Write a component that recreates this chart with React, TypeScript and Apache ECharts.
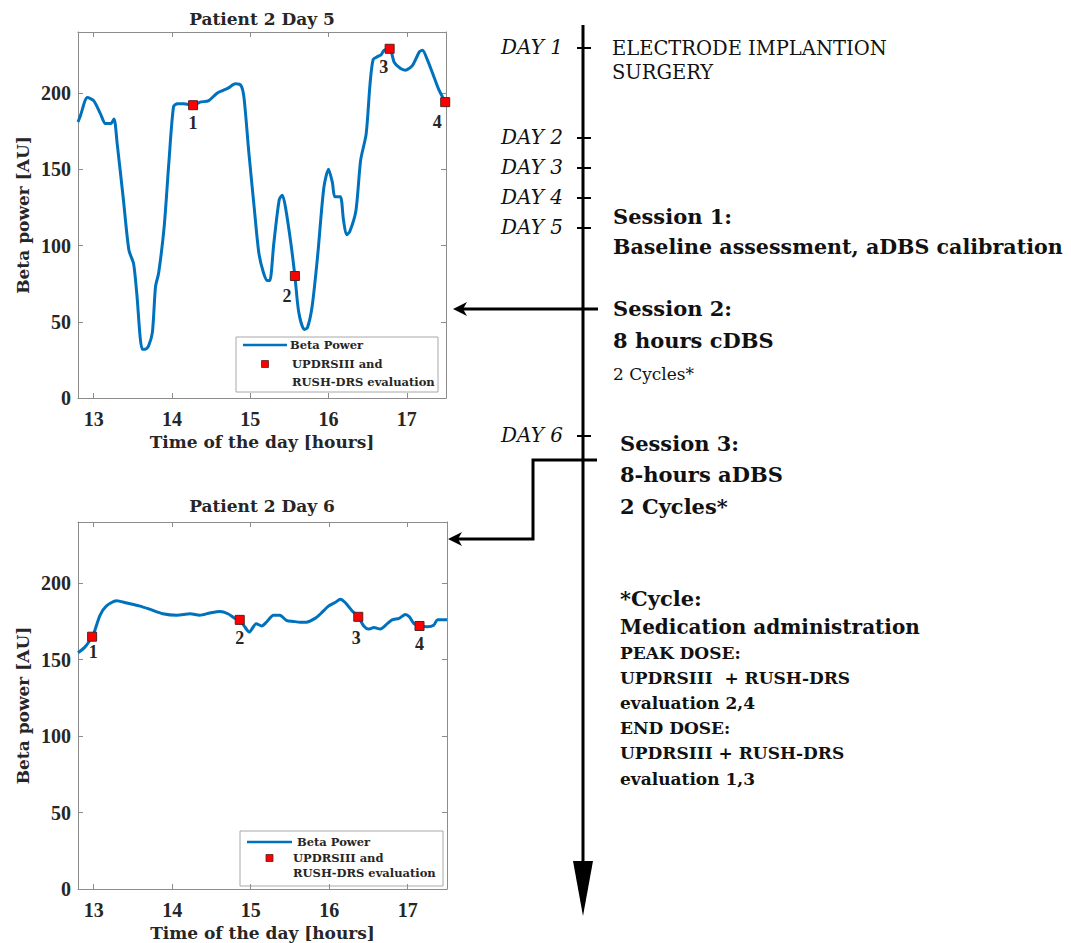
import React, { useEffect, useRef } from 'react';
import * as echarts from 'echarts';

// ---- data ----
const day5Hours = [12.8, 12.83, 12.92, 13.0, 13.09, 13.15, 13.22, 13.26, 13.3, 13.38, 13.45, 13.51, 13.55, 13.62, 13.66, 13.7, 13.75, 13.79, 13.83, 13.9, 13.96, 14.02, 14.07, 14.15, 14.27, 14.36, 14.47, 14.58, 14.71, 14.81, 14.88, 14.92, 14.98, 15.05, 15.11, 15.17, 15.22, 15.25, 15.3, 15.37, 15.41, 15.45, 15.52, 15.57, 15.62, 15.69, 15.73, 15.79, 15.86, 15.94, 16.0, 16.05, 16.08, 16.15, 16.19, 16.23, 16.27, 16.35, 16.41, 16.48, 16.53, 16.57, 16.63, 16.67, 16.71, 16.78, 16.84, 16.92, 16.98, 17.07, 17.16, 17.2, 17.26, 17.35, 17.41, 17.48, 17.5];
const day5Power = [181, 185, 197, 195, 186, 180, 180, 183, 167, 130, 97, 88, 69, 32, 32, 34, 43, 73, 82, 112, 154, 191, 193, 193, 192, 194, 195, 200, 203, 206, 205, 197, 162, 125, 95, 82, 77, 77, 101, 130, 133, 125, 101, 80, 56, 45, 46, 60, 93, 138, 150, 141, 132, 132, 117, 107, 109, 123, 156, 173, 206, 222, 224, 225, 228, 229, 220, 216, 215, 218, 227, 228, 222, 210, 202, 195, 193];
const day5EvalHours = [14.27, 15.57, 16.78, 17.49];
const day5EvalPower = [192, 80, 229, 194];

const day6Hours = [12.8, 12.885, 12.95, 13.0, 13.08, 13.16, 13.29, 13.42, 13.59, 13.71, 13.88, 14.06, 14.23, 14.35, 14.48, 14.61, 14.71, 14.8, 14.86, 14.93, 14.98, 15.07, 15.14, 15.2, 15.29, 15.37, 15.46, 15.54, 15.63, 15.71, 15.82, 15.89, 15.99, 16.08, 16.14, 16.2, 16.29, 16.37, 16.44, 16.5, 16.57, 16.65, 16.74, 16.8, 16.89, 16.97, 17.02, 17.08, 17.15, 17.25, 17.33, 17.38, 17.5];
const day6Power = [154.5, 158, 162.5, 167, 179, 185, 188.5, 187, 185, 183, 180, 179, 180, 179, 180.5, 181.5, 180, 177, 176, 171, 168, 173.5, 172, 174.5, 179, 179, 175.5, 175, 174.5, 174.5, 177, 180, 185, 187.5, 189.5, 187.5, 182, 178, 172, 170, 171, 170, 173.5, 176, 177, 179.5, 178, 173.5, 172, 171.5, 172.5, 176, 176];
const day6EvalHours = [12.98, 14.86, 16.37, 17.15];
const day6EvalPower = [165, 176, 178, 172];

const evalLabels = ['1', '2', '3', '4'];
const xTicks = [13, 14, 15, 16, 17];
const yTicks = [0, 50, 100, 150, 200];
const chartTitles = ['Patient 2 Day 5', 'Patient 2 Day 6'];
const lineName = 'Beta Power';
const evalNameLines = ['UPDRSIII and', 'RUSH-DRS evaluation'];
const timelineDays = ['DAY 1', 'DAY 2', 'DAY 3', 'DAY 4', 'DAY 5', 'DAY 6'];

// ---- styling ----
const SERIF = "'DejaVu Serif', serif";
const NUM = "'Liberation Serif', serif";
const BLUE = '#0072BD';
const RED = '#ff0000';
const BOX = '#8c8c8c';
const TXT = '#262626';

function buildAxes(gridIndex: number) {
  const xBottom = {
    type: 'value', gridIndex, min: 12.8, max: 17.5, position: 'bottom',
    name: 'Time of the day [hours]', nameLocation: 'middle', nameGap: 35,
    nameTextStyle: { fontFamily: SERIF, fontWeight: 'bold', fontSize: 17, color: TXT },
    axisLine: { show: true, onZero: false, lineStyle: { color: BOX, width: 1 } },
    axisTick: { show: true, inside: true, length: 5, customValues: xTicks, lineStyle: { color: BOX } },
    axisLabel: { customValues: xTicks, margin: 11, fontFamily: NUM, fontWeight: 'bold', fontSize: 20, color: TXT },
    splitLine: { show: false },
  };
  const xTop = {
    type: 'value', gridIndex, min: 12.8, max: 17.5, position: 'top',
    axisLine: { show: true, onZero: false, lineStyle: { color: BOX, width: 1 } },
    axisTick: { show: true, inside: true, length: 5, customValues: xTicks, lineStyle: { color: BOX } },
    axisLabel: { show: false },
    splitLine: { show: false },
  };
  const yLeft = {
    type: 'value', gridIndex, min: 0, max: 240, interval: 50, position: 'left',
    name: 'Beta power [AU]', nameLocation: 'middle', nameGap: 47,
    nameTextStyle: { fontFamily: SERIF, fontWeight: 'bold', fontSize: 17, color: TXT },
    axisLine: { show: true, onZero: false, lineStyle: { color: BOX, width: 1 } },
    axisTick: { show: true, inside: true, length: 5, customValues: yTicks, lineStyle: { color: BOX } },
    axisLabel: { customValues: yTicks, margin: 7, fontFamily: NUM, fontWeight: 'bold', fontSize: 20, color: TXT },
    splitLine: { show: false },
  };
  const yRight = {
    type: 'value', gridIndex, min: 0, max: 240, interval: 50, position: 'right',
    axisLine: { show: true, onZero: false, lineStyle: { color: BOX, width: 1 } },
    axisTick: { show: true, inside: true, length: 5, customValues: yTicks, lineStyle: { color: BOX } },
    axisLabel: { show: false },
    splitLine: { show: false },
  };
  return { x: [xBottom, xTop], y: [yLeft, yRight] };
}

function buildSeries(axisIndex: number, hours: number[], power: number[], evH: number[], evP: number[], offsets: number[][]) {
  return [
    {
      type: 'line', name: lineName, xAxisIndex: axisIndex, yAxisIndex: axisIndex,
      data: hours.map((h, i) => [h, power[i]]),
      symbol: 'none', smooth: 0.25,
      lineStyle: { color: BLUE, width: 3 }, itemStyle: { color: BLUE },
      z: 2,
    },
    {
      type: 'scatter', name: evalNameLines.join(' '), xAxisIndex: axisIndex, yAxisIndex: axisIndex,
      symbol: 'rect', symbolSize: 9,
      itemStyle: { color: RED, borderColor: '#5a2020', borderWidth: 1, opacity: 1 },
      data: evH.map((h, i) => ({
        value: [h, evP[i]],
        label: { offset: offsets[i] },
      })),
      label: {
        show: true, position: 'bottom', distance: 4,
        formatter: (p: any) => evalLabels[p.dataIndex],
        fontFamily: NUM, fontWeight: 'bold', fontSize: 18, color: TXT,
      },
      z: 3,
    },
  ];
}

// a boxed legend drawn with graphic elements (two-line entry, marker aligned to first line)
function legendBox(bx: number, by: number, bw: number, bh: number, lineX: number, lineW: number, y1: number, y2: number, y3: number, t1x: number, t2x: number) {
  const font = { fontFamily: SERIF, fontWeight: 'bold', fontSize: 11.5, fill: TXT, verticalAlign: 'middle', align: 'left' };
  return {
    type: 'group', z: 50,
    children: [
      { type: 'rect', shape: { x: bx, y: by, width: bw, height: bh }, style: { fill: '#ffffff', stroke: '#a8a8a8', lineWidth: 1 } },
      { type: 'line', shape: { x1: lineX, y1, x2: lineX + lineW, y2: y1 }, style: { stroke: BLUE, lineWidth: 2.5 } },
      { type: 'rect', shape: { x: lineX + lineW / 2 - 3.5, y: y2 - 3.5, width: 7, height: 7 }, style: { fill: RED, stroke: '#5a2020', lineWidth: 0.8 } },
      { type: 'text', x: t1x, y: y1, style: { ...font, text: lineName } },
      { type: 'text', x: t2x, y: y2, style: { ...font, text: evalNameLines[0] } },
      { type: 'text', x: t2x, y: y3, style: { ...font, text: evalNameLines[1] } },
    ],
  };
}

export default function App() {
  const ref = useRef<HTMLDivElement>(null);

  useEffect(() => {
    if (!ref.current) return;
    const chart = echarts.init(ref.current, undefined, { renderer: 'svg' });

    const a1 = buildAxes(0);
    const a2 = buildAxes(1);

    const blk = '#000000';
    const dayY = [48, 138, 168, 198, 228, 436];
    const graphics: any[] = [];
    // main vertical timeline with arrow head
    graphics.push({ type: 'line', shape: { x1: 583, y1: 25, x2: 583, y2: 866 }, style: { stroke: blk, lineWidth: 3 } });
    graphics.push({ type: 'polygon', shape: { points: [[573, 861], [593, 861], [583, 916]] }, style: { fill: blk } });
    dayY.forEach((y) => {
      graphics.push({ type: 'line', shape: { x1: 577, y1: y, x2: 591, y2: y }, style: { stroke: blk, lineWidth: 2 } });
    });
    // session 2 arrow to day 5 chart
    graphics.push({ type: 'line', shape: { x1: 598, y1: 309, x2: 458, y2: 309 }, style: { stroke: blk, lineWidth: 3 } });
    graphics.push({ type: 'polygon', shape: { points: [[453, 309], [467, 302], [463, 309], [467, 316]] }, style: { fill: blk } });
    // session 3 connector to day 6 chart
    graphics.push({ type: 'polyline', shape: { points: [[597, 460], [533, 460], [533, 539], [456, 539]] }, style: { stroke: blk, lineWidth: 3, fill: null } });
    graphics.push({ type: 'polygon', shape: { points: [[448, 539], [462, 532], [458, 539], [462, 546]] }, style: { fill: blk } });

    const txt = (text: string, x: number, y: number, size: number, weight: string, italic: boolean, align = 'left') => ({
      type: 'text', x, y,
      style: {
        text, fill: '#111', fontFamily: SERIF, fontSize: size, fontWeight: weight,
        fontStyle: italic ? 'italic' : 'normal', align, verticalAlign: 'middle',
      },
    });
    timelineDays.forEach((d, i) => graphics.push(txt(d, 563, dayY[i] - 1, 20, 'normal', true, 'right')));
    graphics.push(txt('ELECTRODE IMPLANTION', 612, 48, 19.5, 'normal', false));
    graphics.push(txt('SURGERY', 612, 72, 19.5, 'normal', false));
    graphics.push(txt('Session 1:', 613, 216, 21, 'bold', false));
    graphics.push(txt('Baseline assessment, aDBS calibration', 613, 247, 20.6, 'bold', false));
    graphics.push(txt('Session 2:', 613, 308, 21, 'bold', false));
    graphics.push(txt('8 hours cDBS', 613, 340, 21, 'bold', false));
    graphics.push(txt('2 Cycles*', 613, 374, 17, 'normal', false));
    graphics.push(txt('Session 3:', 620, 443, 21, 'bold', false));
    graphics.push(txt('8-hours aDBS', 620, 474, 21, 'bold', false));
    graphics.push(txt('2 Cycles*', 620, 506, 21, 'bold', false));
    graphics.push(txt('*Cycle:', 620, 598, 21, 'bold', false));
    graphics.push(txt('Medication administration', 620, 627, 20, 'bold', false));
    graphics.push(txt('PEAK DOSE:', 620, 653, 17, 'bold', false));
    graphics.push(txt('UPDRSIII  + RUSH-DRS', 620, 678, 17, 'bold', false));
    graphics.push(txt('evaluation 2,4', 620, 703, 17, 'bold', false));
    graphics.push(txt('END DOSE:', 620, 728, 17, 'bold', false));
    graphics.push(txt('UPDRSIII + RUSH-DRS', 620, 753, 17, 'bold', false));
    graphics.push(txt('evaluation 1,3', 620, 779, 17, 'bold', false));

    // legends for both charts
    graphics.push(legendBox(236, 337, 202, 55, 243, 44, 345, 364, 382, 290, 292));
    graphics.push(legendBox(240, 831, 203, 55, 247, 45, 842, 858, 873, 297, 293));

    const titleStyle = { fontFamily: SERIF, fontWeight: 'bold', fontSize: 17, color: TXT };

    chart.setOption({
      animation: false,
      backgroundColor: '#ffffff',
      title: [
        { text: chartTitles[0], left: 262, top: 10, textAlign: 'center', padding: 0, textStyle: titleStyle },
        { text: chartTitles[1], left: 262, top: 497, textAlign: 'center', padding: 0, textStyle: titleStyle },
      ],
      grid: [
        { left: 78, top: 32, width: 368, height: 366, show: false },
        { left: 78, top: 522, width: 369, height: 367, show: false },
      ],
      xAxis: [...a1.x, ...a2.x],
      yAxis: [...a1.y, ...a2.y],
      series: [
        ...buildSeries(0, day5Hours, day5Power, day5EvalHours, day5EvalPower, [[0, 0], [-8, 2], [-6, 0], [-8, 2]]),
        ...buildSeries(2, day6Hours, day6Power, day6EvalHours, day6EvalPower, [[1, -3], [0, 0], [-2, 3], [0, 0]]),
      ],
      graphic: graphics,
    });

    return () => chart.dispose();
  }, []);

  return (
    <div
      ref={ref}
      style={{ position: 'fixed', left: 0, top: 0, width: 1071, height: 943, background: '#fff' }}
    />
  );
}
